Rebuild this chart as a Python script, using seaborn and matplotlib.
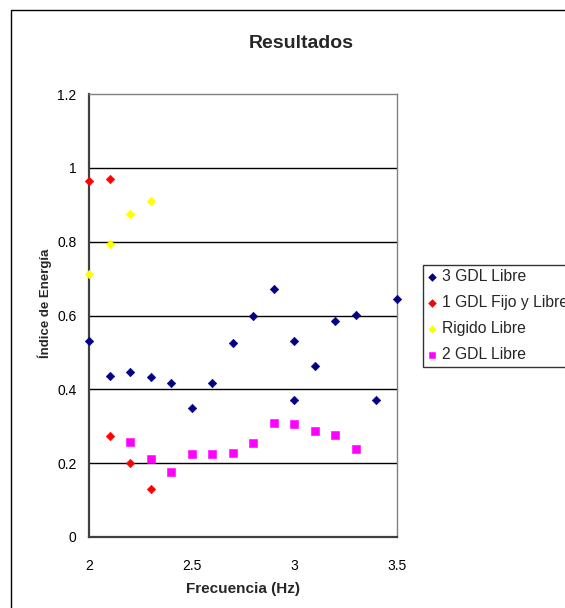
import matplotlib
matplotlib.use("Agg")
import matplotlib.pyplot as plt
from matplotlib.patches import Rectangle
import seaborn as sns
import pandas as pd

# Series values: frequency (Hz) and energy index
gdl3_x = [2.0, 2.1, 2.2, 2.3, 2.4, 2.5, 2.6, 2.7, 2.8, 2.9, 3.0, 3.0, 3.1, 3.2, 3.3, 3.4, 3.5]
gdl3_y = [0.531, 0.437, 0.447, 0.434, 0.417, 0.350, 0.417, 0.526, 0.598, 0.672, 0.532, 0.371, 0.463, 0.585, 0.601, 0.371, 0.646]

gdl1_x = [2.0, 2.1, 2.1, 2.2, 2.3]
gdl1_y = [0.963, 0.970, 0.274, 0.200, 0.130]

rigido_x = [2.0, 2.1, 2.2, 2.3]
rigido_y = [0.712, 0.793, 0.875, 0.910]

gdl2_x = [2.2, 2.3, 2.4, 2.5, 2.6, 2.7, 2.8, 2.9, 3.0, 3.1, 3.2, 3.3]
gdl2_y = [0.257, 0.212, 0.176, 0.225, 0.225, 0.228, 0.255, 0.310, 0.307, 0.287, 0.275, 0.238]

series_names = ["3 GDL Libre", "1 GDL Fijo y Libre", "Rigido Libre", "2 GDL Libre"]
x_ticks = [2, 2.5, 3, 3.5]
x_tick_labels = ["2", "2.5", "3", "3.5"]
y_ticks = [0, 0.2, 0.4, 0.6, 0.8, 1.0, 1.2]
y_tick_labels = ["0", "0.2", "0.4", "0.6", "0.8", "1", "1.2"]

sns.set_style("white")
plt.rcParams["font.family"] = ["Liberation Sans", "DejaVu Sans"]

W, H = 565, 608
fig = plt.figure(figsize=(W / 100, H / 100), dpi=100)
fig.patch.set_facecolor("white")

# Chart area border (extends past the right and bottom edges)
fig.patches.append(Rectangle((11 / W, -0.1), 1.2, 1 - 10 / H + 0.1,
                             transform=fig.transFigure, fill=False,
                             edgecolor="black", linewidth=1.0))

ax = fig.add_axes([89 / W, 1 - 537 / H, (397 - 89) / W, (537 - 94) / H])

frames = [
    pd.DataFrame({"x": gdl3_x, "y": gdl3_y, "s": series_names[0]}),
    pd.DataFrame({"x": gdl1_x, "y": gdl1_y, "s": series_names[1]}),
    pd.DataFrame({"x": rigido_x, "y": rigido_y, "s": series_names[2]}),
    pd.DataFrame({"x": gdl2_x, "y": gdl2_y, "s": series_names[3]}),
]
colors = ["#000080", "#FF0000", "#FFFF00", "#FF00FF"]
markers = ["D", "D", "D", "s"]
sizes = [19, 19, 19, 30]

for df, c, m, sz, name in zip(frames, colors, markers, sizes, series_names):
    sns.scatterplot(data=df, x="x", y="y", ax=ax, color=c, marker=m, s=sz,
                    edgecolor=c, linewidth=0.4, label=name, zorder=3,
                    clip_on=False)

ax.set_xlim(2, 3.5)
ax.set_ylim(0, 1.2)
ax.set_xticks(x_ticks)
ax.set_xticklabels(x_tick_labels)
ax.set_yticks(y_ticks)
ax.set_yticklabels(y_tick_labels)

for yv in y_ticks[1:-1]:
    ax.axhline(yv, color="black", linewidth=1.0, zorder=1)

for side in ["top", "right"]:
    ax.spines[side].set_color("#808080")
    ax.spines[side].set_linewidth(1.0)
for side in ["left", "bottom"]:
    ax.spines[side].set_color("#404040")
    ax.spines[side].set_linewidth(1.6)

ax.tick_params(axis="both", direction="out", length=5, width=1.0,
               color="#404040", labelsize=10, labelcolor="black")
ax.tick_params(axis="x", pad=11)
ax.tick_params(axis="y", pad=4)

ax.set_xlabel("Frecuencia (Hz)", fontsize=11, fontweight="bold")
ax.xaxis.set_label_coords((242.5 - 89) / 308, (537 - 582) / 443)
ax.set_ylabel("Índice de Energía", fontsize=9.5, fontweight="bold")
ax.yaxis.set_label_coords((45 - 89) / 308, (537 - 303) / 443)
ax.yaxis.label.set_verticalalignment("center")

fig.text(301 / W, 1 - 43 / H, "Resultados", ha="center", va="center",
         fontsize=14, fontweight="bold")

handles, labels = ax.get_legend_handles_labels()
ax.get_legend().remove()
leg = fig.legend(handles, labels, loc="upper left",
                 bbox_to_anchor=(423 / W, 1 - 265 / H),
                 fontsize=11.3, frameon=True, fancybox=False,
                 edgecolor="black", borderpad=0.28, labelspacing=0.7,
                 handlelength=0.6, handletextpad=0.3, markerscale=0.9,
                 borderaxespad=0)
leg.get_frame().set_linewidth(1.0)

fig.savefig("out.png", dpi=100, facecolor="white")
